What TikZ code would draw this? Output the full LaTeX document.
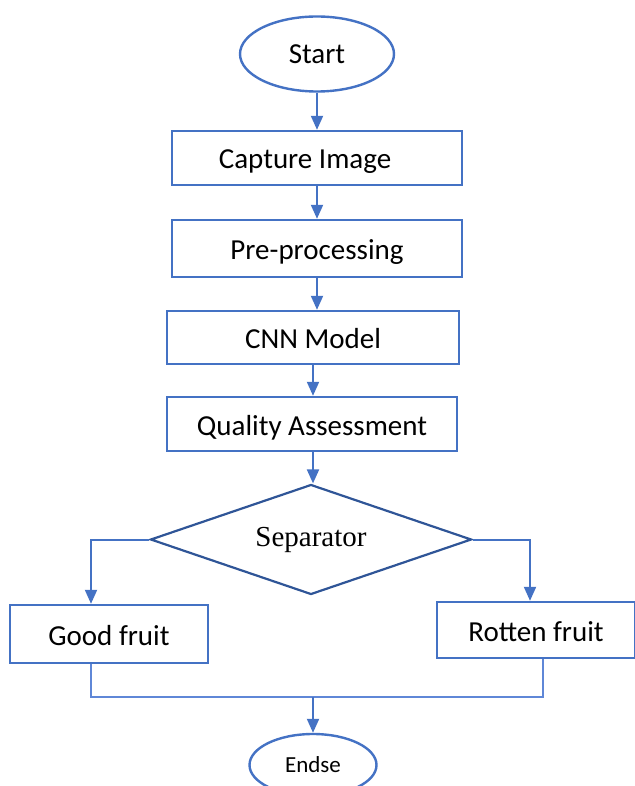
\documentclass[tikz,border=0pt]{standalone}
\usepackage{fontspec}
\setmainfont{Carlito}
\newfontfamily\seriffont{Liberation Serif}
\usetikzlibrary{shapes.geometric, arrows.meta, positioning}
\definecolor{flowblue}{RGB}{68, 114, 196}
\definecolor{darkblue}{RGB}{47, 85, 151}
\definecolor{lightblue}{RGB}{95, 135, 215}

\begin{document}
\begin{tikzpicture}[x=0.5pt, y=-0.5pt,
        procbox/.style={rectangle, draw=flowblue, line width=1.2pt, inner sep=0pt, align=center, text height=1.25em, text depth=0.15em, font=\fontsize{14.5}{17}\selectfont},
        terminal/.style={ellipse, draw=flowblue, line width=1.2pt, inner sep=0pt, align=center},
        decision/.style={diamond, aspect=2.9, draw=darkblue, line width=1.1pt, inner sep=0pt, font=\seriffont\fontsize{14.5}{17}\selectfont},
        arrow/.style={-{Triangle[width=6pt, length=7pt]}, draw=flowblue, line width=1pt},
        joinline/.style={draw=lightblue, line width=0.6pt}
    ]
        \useasboundingbox (0,0) rectangle (635,786);

        \node[terminal, minimum width=77pt, minimum height=37.5pt, font=\fontsize{14.5}{17}\selectfont] (start) at (317, 54) {Start};
        \node[procbox, minimum width=145pt, minimum height=27pt] (capture) at (317, 158) {Capture Image\hspace*{12pt}};
        \node[procbox, minimum width=145pt, minimum height=28.5pt] (preproc) at (317, 248.5) {Pre-processing};
        \node[procbox, minimum width=146pt, minimum height=26.5pt] (cnn) at (313, 337.5) {CNN Model};
        \node[procbox, minimum width=145pt, minimum height=27pt] (quality) at (312, 424) {Quality Assessment};
        \node[decision, minimum width=160.5pt, minimum height=55pt] (separator) at (311, 539.5) {Separator};
        \node[procbox, minimum width=99pt, minimum height=29pt] (good) at (109, 634) {Good fruit};
        \node[procbox, minimum width=99pt, minimum height=28pt] (rotten) at (536, 630) {Rotten fruit};
        \node[terminal, minimum width=63.5pt, minimum height=31pt, font=\fontsize{11.5}{14}\selectfont] (endse) at (313, 765) {Endse};
        \coordinate (join) at (313, 697);

        \draw[arrow] (start) -- (capture);
        \draw[arrow] (capture) -- (preproc);
        \draw[arrow] (preproc) -- (preproc |- cnn.north);
        \draw[arrow] (cnn) -- (cnn |- quality.north);
        \draw[arrow] (join |- quality.south) -- (join |- separator.north);
        \draw[arrow] (separator.west) -| ([xshift=-9pt]good.north);
        \draw[arrow] (separator.east) -| ([xshift=-3pt]rotten.north);

        \draw[joinline] ([xshift=-9pt]good.south) |- (join) -| ([xshift=3.5pt]rotten.south);
        \draw[arrow] (join) -- (endse);
    \end{tikzpicture}
\end{document}
